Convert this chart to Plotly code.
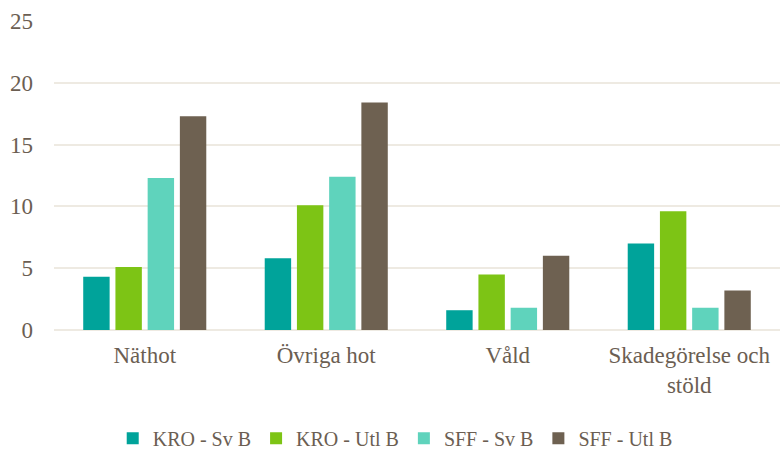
import plotly.graph_objects as go

categories = ["Näthot", "Övriga hot", "Våld", "Skadegörelse och<br>stöld"]
series_names = ["KRO - Sv B", "KRO - Utl B", "SFF - Sv B", "SFF - Utl B"]
kro_sv = [4.3, 5.8, 1.6, 7.0]
kro_utl = [5.1, 10.1, 4.5, 9.6]
sff_sv = [12.3, 12.4, 1.8, 1.8]
sff_utl = [17.3, 18.4, 6.0, 3.2]
y_ticks = [0, 5, 10, 15, 20, 25]

colors = ["#00A39A", "#7DC415", "#5FD3BC", "#6E6151"]
text_color = "#6B5E52"
grid_color = "#EEEAE2"
FONT = "Times New Roman, Liberation Serif, DejaVu Serif, serif"

fig = go.Figure()
for name, vals, col in zip(series_names, [kro_sv, kro_utl, sff_sv, sff_utl], colors):
    fig.add_trace(go.Bar(x=categories, y=vals, name=name, marker_color=col,
                         marker_line_width=0))

fig.update_layout(
    width=780, height=449,
    margin=dict(l=54, r=0, t=21, b=119, autoexpand=False),
    paper_bgcolor="white", plot_bgcolor="white",
    barmode="group", bargap=0.29, bargroupgap=0.18,
    font=dict(family=FONT, color=text_color, size=23),
    legend=dict(orientation="h", x=0.47, xanchor="center", y=-0.35, yanchor="middle",
                font=dict(family=FONT, size=20, color=text_color), itemwidth=30,
                traceorder="normal"),
    xaxis=dict(showgrid=False, showline=False, ticks="", ticklabelstandoff=9,
               automargin=False, tickfont=dict(family=FONT, size=23)),
    yaxis=dict(range=[0, 25], tickvals=y_ticks, showgrid=True, gridcolor=grid_color,
               gridwidth=1.5, zeroline=True, zerolinecolor=grid_color, zerolinewidth=2,
               showline=False, ticks="", ticklabelstandoff=20, automargin=False,
               tickfont=dict(family=FONT, size=23)),
)

fig.write_html("out.html", config={"displayModeBar": False},
               post_script="document.body.style.margin='0';")
